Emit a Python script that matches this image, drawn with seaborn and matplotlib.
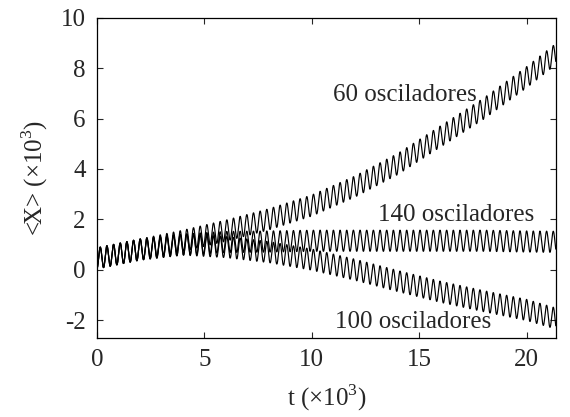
import numpy as np
import pandas as pd
import matplotlib
matplotlib.use("Agg")
import matplotlib.pyplot as plt
import seaborn as sns

# Centre-line values of <X> (x10^3) read at these times (x10^3)
t_knots = [0, 2, 4, 6, 8, 10, 12, 14, 16, 18, 20, 22]
center_60 = [0.45, 0.8, 1.15, 1.55, 2.0, 2.55, 3.3, 4.2, 5.3, 6.4, 7.65, 9.0]
center_140 = [0.45, 0.8, 1.0, 1.1, 1.12, 1.15, 1.15, 1.15, 1.15, 1.15, 1.12, 1.1]
center_100 = [0.45, 0.8, 1.0, 0.9, 0.7, 0.4, 0.0, -0.45, -0.88, -1.25, -1.6, -2.1]
osc_amplitude = [0.42, 0.42, 0.42]  # half peak-to-trough, per series
osc_period = 0.31                   # x10^3
labels = ["60 osciladores", "140 osciladores", "100 osciladores"]
label_pos = [(10.98, 6.95), (13.07, 2.18), (11.07, -2.08)]
x_ticks = [0, 5, 10, 15, 20]
y_ticks = [-2, 0, 2, 4, 6, 8, 10]
x_max = 21.35

sns.set_style("ticks")
plt.rcParams['font.family'] = ['Liberation Serif', 'DejaVu Serif']
plt.rcParams['mathtext.fontset'] = 'custom'
plt.rcParams['mathtext.rm'] = 'Liberation Serif'
plt.rcParams['axes.unicode_minus'] = False

t = np.linspace(0, x_max, 6000)
frames = []
for name, cen, amp in zip(labels, [center_60, center_140, center_100], osc_amplitude):
    c = np.interp(t, t_knots, cen)
    y = c - amp * np.cos(2 * np.pi * t / osc_period)
    frames.append(pd.DataFrame({"t": t, "x": y, "serie": name}))
df = pd.concat(frames, ignore_index=True)

fig = plt.figure(figsize=(5.7, 4.17), dpi=100)
ax = fig.add_axes([0.170, 0.189, 0.805, 0.768])
sns.lineplot(data=df, x="t", y="x", hue="serie", palette=["black"] * 3,
             linewidth=0.85, legend=False, ax=ax, estimator=None, sort=False)

for lab, (xx, yy) in zip(labels, label_pos):
    ax.text(xx, yy, lab, fontsize=18, va="center", ha="left")

ax.set_xlim(0, x_max)
ax.set_ylim(-2.72, 10)
ax.set_xticks(x_ticks)
ax.set_yticks(y_ticks)
ax.tick_params(direction="in", length=4, width=0.8, labelsize=18,
               top=True, right=True, pad=8)
for s in ax.spines.values():
    s.set_linewidth(0.9)
    s.set_color("black")
ax.set_xlabel(r"t ($\times$10$^3$)", fontsize=18, labelpad=8)
ax.set_ylabel(r"<X> ($\times$10$^3$)", fontsize=18, labelpad=8)

fig.savefig("out.png", dpi=100)
